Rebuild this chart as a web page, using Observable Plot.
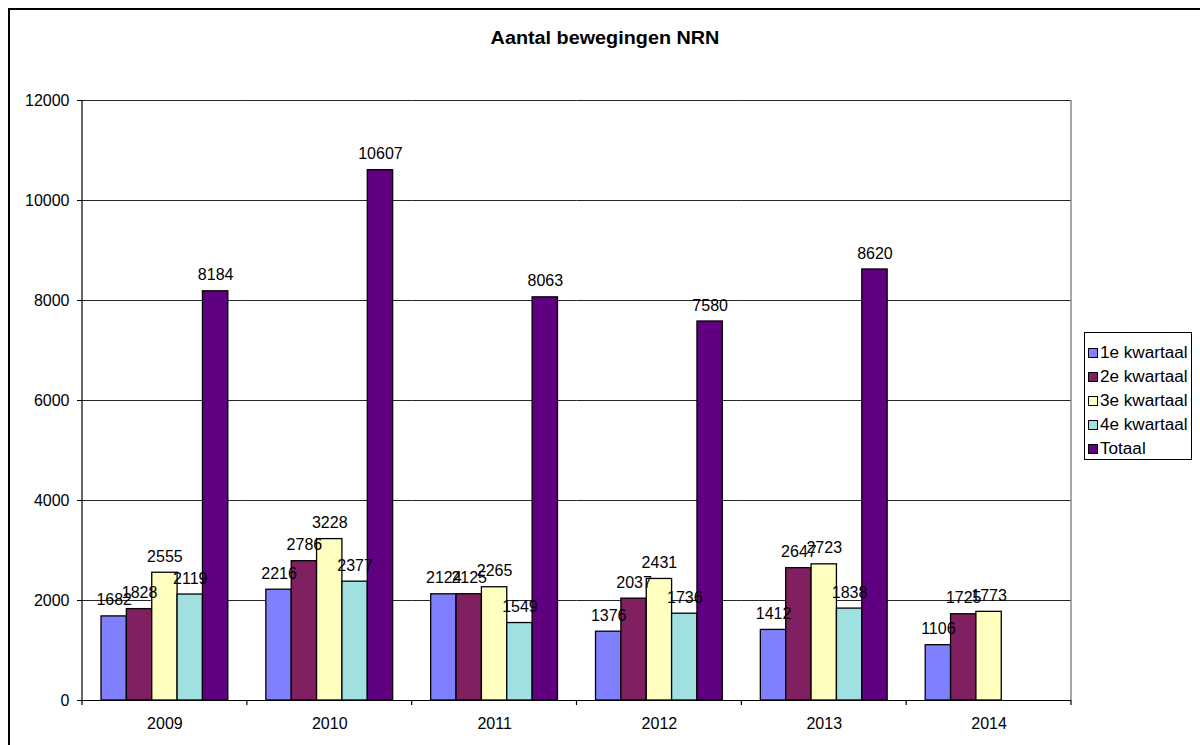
<!DOCTYPE html>
<html>
<head>
<meta charset="utf-8">
<script src="https://cdn.jsdelivr.net/npm/d3@7"></script>
<script src="https://cdn.jsdelivr.net/npm/@observablehq/plot@0.6"></script>
<style>
  html, body { margin: 0; padding: 0; width: 1200px; height: 745px; overflow: hidden; background: #fff; }
  body { position: relative; font-family: "Liberation Sans", Arial, sans-serif; }
  #frame { position: absolute; left: 8px; top: 8px; width: 1220px; height: 800px; border: 2px solid #000; box-sizing: border-box; }
  #title { position: absolute; left: 405px; top: 28px; width: 400px; text-align: center; font-weight: bold; font-size: 18px; color: #000; transform: scaleX(1.1); transform-origin: center; }
  #chart { position: absolute; left: 0; top: 0; }
  #legend { position: absolute; left: 1084px; top: 332px; width: 108px; height: 128px; border: 1px solid #000; box-sizing: border-box; background: #fff; padding-top: 8px; overflow: hidden; }
  .item { height: 24px; display: flex; align-items: center; font-size: 16px; color: #000; padding-left: 3px; white-space: nowrap; }
  .sw { width: 8px; height: 8px; border: 1px solid #000; margin-right: 2px; flex: none; }
  .lt { display: inline-block; transform: scaleX(1.07); transform-origin: left center; }
</style>
</head>
<body>
<div id="frame"></div>
<div id="chart"></div>
<div id="title">Aantal bewegingen NRN</div>
<div id="legend"></div>
<script>
const years = ["2009", "2010", "2011", "2012", "2013", "2014"];
const series = ["1e kwartaal", "2e kwartaal", "3e kwartaal", "4e kwartaal", "Totaal"];
const q1 = [1682, 2216, 2124, 1376, 1412, 1106];
const q2 = [1828, 2786, 2125, 2037, 2647, 1725];
const q3 = [2555, 3228, 2265, 2431, 2723, 1773];
const q4 = [2119, 2377, 1549, 1736, 1838, null];
const totaal = [8184, 10607, 8063, 7580, 8620, null];
const colors = ["#8080FF", "#802060", "#FFFFC0", "#A0E0E0", "#600080"];
const yTicks = [0, 2000, 4000, 6000, 8000, 10000, 12000];

const seriesValues = [q1, q2, q3, q4, totaal];
const data = [];
years.forEach((yr, i) => {
  series.forEach((s, j) => {
    const v = seriesValues[j][i];
    if (v != null) data.push({year: yr, series: s, value: v});
  });
});

const plot = Plot.plot({
  width: 1200,
  height: 745,
  marginLeft: 82,
  marginRight: 129,
  marginTop: 100,
  marginBottom: 45,
  style: {fontFamily: "'Liberation Sans', Arial, sans-serif", fontSize: "16px", background: "transparent", color: "#000"},
  fx: {domain: years, padding: 0, round: false, label: null},
  x: {domain: series, paddingInner: 0, paddingOuter: 0.75, round: false, axis: null},
  y: {domain: [0, 12000], label: null},
  color: {domain: series, range: colors},
  marks: [
    Plot.gridY(yTicks, {stroke: "#000", strokeOpacity: 0.85, strokeWidth: 1}),
    Plot.barY(data, {fx: "year", x: "series", y: "value", fill: "series", stroke: "#000", strokeWidth: 1.3}),
    Plot.text(data, {fx: "year", x: "series", y: "value", text: d => String(d.value), dy: -11, lineAnchor: "bottom", fontSize: 16, fill: "#000"}),
    Plot.ruleY([0], {stroke: "#000", strokeWidth: 1.2}),
    Plot.axisY(yTicks, {tickSize: 5, tickPadding: 8, fontSize: 16, label: null, tickFormat: d => String(d), stroke: "#000"}),
    Plot.axisFx({anchor: "bottom", tickSize: 0, tickPadding: 17, fontSize: 16, label: null})
  ]
});

document.getElementById("chart").appendChild(plot);

// Category boundary ticks, left axis line and right plot-area border from the library's scales
const fx = plot.scale("fx");
const y = plot.scale("y");
const svg = d3.select(plot);
const bounds = years.map(yr => fx.apply(yr));
bounds.push(fx.apply(years[years.length - 1]) + fx.bandwidth);
const y0 = y.apply(0), yTop = y.apply(12000);
const g = svg.append("g");
g.selectAll("line.tick").data(bounds).join("line")
  .attr("x1", d => d).attr("x2", d => d)
  .attr("y1", y0).attr("y2", y0 + 5)
  .attr("stroke", "#000").attr("stroke-width", 1.2);
g.append("line").attr("x1", bounds[0]).attr("x2", bounds[0]).attr("y1", yTop).attr("y2", y0)
  .attr("stroke", "#000").attr("stroke-width", 1.2);
g.append("line").attr("x1", bounds[bounds.length - 1]).attr("x2", bounds[bounds.length - 1]).attr("y1", yTop).attr("y2", y0)
  .attr("stroke", "#888").attr("stroke-width", 1.5);

const legend = document.getElementById("legend");
series.forEach((s, i) => {
  const item = document.createElement("div");
  item.className = "item";
  const sw = document.createElement("span");
  sw.className = "sw";
  sw.style.background = colors[i];
  item.appendChild(sw);
  const t = document.createElement("span");
  t.className = "lt";
  t.textContent = s;
  item.appendChild(t);
  legend.appendChild(item);
});
</script>
</body>
</html>
